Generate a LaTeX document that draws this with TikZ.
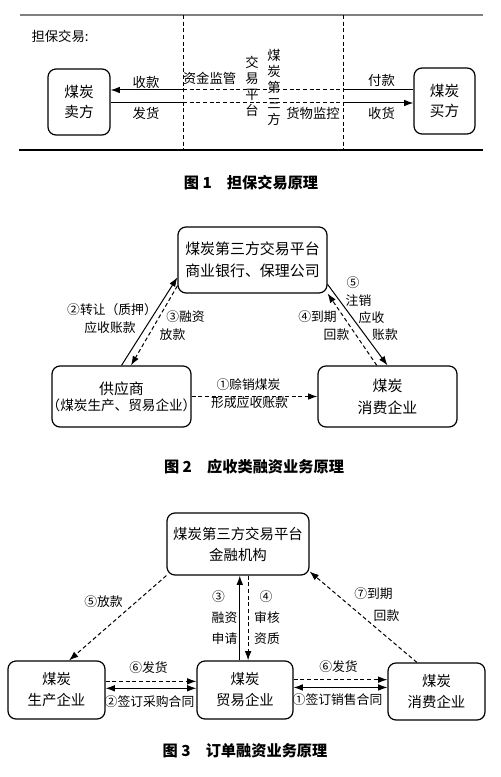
\documentclass[tikz,border=0pt]{standalone}
\usepackage{fontspec}
\setmainfont{Noto Sans CJK SC}
\usetikzlibrary{arrows.meta}

\tikzset{
  box/.style={draw, line width=0.9pt, rounded corners=6pt, align=center, inner sep=0pt},
  boxfont/.style={font=\fontsize{11}{15}\selectfont},
  lbl/.style={inner sep=0.75pt, font=\fontsize{9.6}{12}\selectfont},
  bigger/.style={font=\fontsize{10}{12}\selectfont},
  arr/.style={-{Latex[length=7pt,width=5pt]}},
  twoarr/.style={{Latex[length=7pt,width=5pt]}-{Latex[length=7pt,width=5pt]}},
  dsh/.style={dash pattern=on 3pt off 2pt},
  figcap/.style={inner sep=0.75pt, font=\fontsize{11.4}{14}\selectfont\bfseries},
}

\begin{document}
\begin{tikzpicture}[x=0.75pt,y=0.75pt,yscale=-1,xscale=1, line width=0.75pt]
\useasboundingbox (0,0) rectangle (500,777);

%%%%%%%% Figure 1
%Straight Lines (frame)
\draw [color=gray, line width=1pt] (20,15) -- (483,15) ;
\draw [line width=1pt] (19,150) -- (483,150) ;
\draw [dsh] (183,15) -- (183,150) ;
\draw [dsh] (343,15) -- (343,150) ;

%Shape: Rounded Rect
\node [box, boxfont, minimum width=46.5pt, minimum height=49.5pt] (seller) at (79,102) {煤炭\\卖方};
\node [box, boxfont, minimum width=45.75pt, minimum height=49.5pt] (buyer) at (444.5,101) {煤炭\\买方};

% points where the flows cross the platform zone
\coordinate (fundL) at (183,90);
\coordinate (fundR) at (343,90);
\coordinate (goodsL) at (183,103);
\coordinate (goodsR) at (343,103);

% Connection
\draw [arr] (fundL) -- (fundL -| seller.east) ;
\draw [dsh] (fundL) -- (fundR) ;
\draw (fundR) -- (fundR -| buyer.west) ;
% Connection
\draw (goodsL) -- (goodsL -| seller.east) ;
\draw [dsh] (goodsL) -- (goodsR) ;
\draw [arr] (goodsR) -- (goodsR -| buyer.west) ;

% Text Node
\node [lbl, bigger, anchor=west] (title1) at (30,36) {担保交易:};
\node [lbl, bigger] (recvpay1) at (146,82) {收款};
\node [lbl, bigger] (ship1) at (146,113) {发货};
\node [lbl, bigger] (fundctl) at (209.5,78) {资金监管};
\node [lbl, bigger] (goodsctl) at (313,113) {货物监控};
\node [lbl, bigger] (pay1) at (381.5,80) {付款};
\node [lbl, bigger] (recvgoods1) at (381.5,113) {收货};
\node [lbl, bigger, align=center] (platv1) at (252,86.5) {交\\易\\平\\台};
\node [lbl, bigger, align=center] (platv2) at (274,87) {煤\\炭\\第\\三\\方};
% Caption
\node [figcap] (cap1) at (251,183) {图 1\quad 担保交易原理};

%%%%%%%% Figure 2
%Shape: Rounded Rect
\node [box, font=\fontsize{11.2}{16.5}\selectfont, minimum width=111.75pt, minimum height=49.5pt] (plat2) at (252.5,260) {煤炭第三方交易平台\\商业银行、保理公司};
\node [box, minimum width=104.25pt, minimum height=45.75pt] (supplier) at (121.5,396.5) {{\fontsize{11.2}{16.5}\selectfont 供应商}\\{\fontsize{10.2}{12}\selectfont\makebox[100pt]{（煤炭生产、贸易企业）}}};
\node [box, font=\fontsize{11.2}{16.5}\selectfont, minimum width=104.25pt, minimum height=45.75pt] (consumer2) at (387.5,396.5) {煤炭\\消费企业};

% Connection
\draw [arr] (supplier.north) -- (plat2.193.4) ;
\draw [arr, dsh] (plat2.199) -- (supplier.73) ;
\draw [arr] (plat2.342) -- (consumer2.north) ;
\draw [arr, dsh] (consumer2.109) -- (plat2.336) ;
\draw [arr, dsh] (supplier.east) -- (consumer2.west) ;

% Text Node
\node [lbl] (transfer2) at (112,310) {②转让（质押）};
\node [lbl] (recv2a) at (110,328) {应收账款};
\node [lbl] (loan2a) at (185.5,317) {③融资};
\node [lbl] (loan2b) at (172.5,335) {放款};
\node [lbl] (cancel2a) at (353,283) {⑤};
\node [lbl] (cancel2b) at (358.5,301) {注销};
\node [lbl] (cancel2c) at (371.5,318) {应收};
\node [lbl] (cancel2d) at (385,335) {账款};
\node [lbl] (repay2a) at (317.5,317) {④到期};
\node [lbl] (repay2b) at (336.5,335) {回款};
\node [lbl] (credit2a) at (248.5,385) {①赊销煤炭};
\node [lbl] (credit2b) at (249.5,403) {形成应收账款};
% Caption
\node [figcap] (cap2) at (254,467) {图 2\quad 应收类融资业务原理};

%%%%%%%% Figure 3
%Shape: Rounded Rect
\node [box, font=\fontsize{10.8}{15.75}\selectfont, minimum width=106.5pt, minimum height=46.5pt] (plat3) at (238,544) {煤炭第三方交易平台\\金融机构};
\node [box, font=\fontsize{10.8}{15.75}\selectfont, minimum width=72.75pt, minimum height=43.5pt] (prod3) at (56.5,690) {煤炭\\生产企业};
\node [box, font=\fontsize{10.8}{15.75}\selectfont, minimum width=72pt, minimum height=43.5pt] (trade3) at (245,690) {煤炭\\贸易企业};
\node [box, font=\fontsize{10.8}{15.75}\selectfont, minimum width=72.75pt, minimum height=42.75pt] (consumer3) at (436.5,691.5) {煤炭\\消费企业};

% Connection
\draw [arr] (trade3.100) -- (trade3.100 |- plat3.south) ;
\draw [arr, dsh] (plat3.south -| trade3.84) -- (trade3.84) ;
\draw [arr, dsh] (plat3.south west) -- (prod3.67) ;
\draw [arr, dsh] (consumer3.124) -- (plat3.339) ;
\draw [arr, dsh] (prod3.10) -- (prod3.10 -| trade3.west) ;
\draw [twoarr] (prod3.2) -- (prod3.2 -| trade3.west) ;
\draw [arr, dsh] (trade3.12) -- (trade3.12 -| consumer3.west) ;
\draw [twoarr] (trade3.3) -- (trade3.3 -| consumer3.west) ;

% Text Node
\node [lbl] (loan3) at (103.5,602) {⑤放款};
\node [lbl] (apply3a) at (218.5,597) {③};
\node [lbl] (apply3b) at (224.5,618) {融资};
\node [lbl] (apply3c) at (224.5,639) {申请};
\node [lbl] (check3a) at (266,597) {④};
\node [lbl] (check3b) at (267,618) {审核};
\node [lbl] (check3c) at (267,639) {资质};
\node [lbl] (repay3a) at (373.5,594) {⑦到期};
\node [lbl] (repay3b) at (386.5,616) {回款};
\node [lbl] (shipL3) at (148.5,668) {⑥发货};
\node [lbl] (buyctr3) at (149.5,702) {②签订采购合同};
\node [lbl] (shipR3) at (338.5,667) {⑥发货};
\node [lbl] (sellctr3) at (337.5,700) {①签订销售合同};
% Caption
\node [figcap] (cap3) at (245,751) {图 3\quad 订单融资业务原理};

\end{tikzpicture}
\end{document}
